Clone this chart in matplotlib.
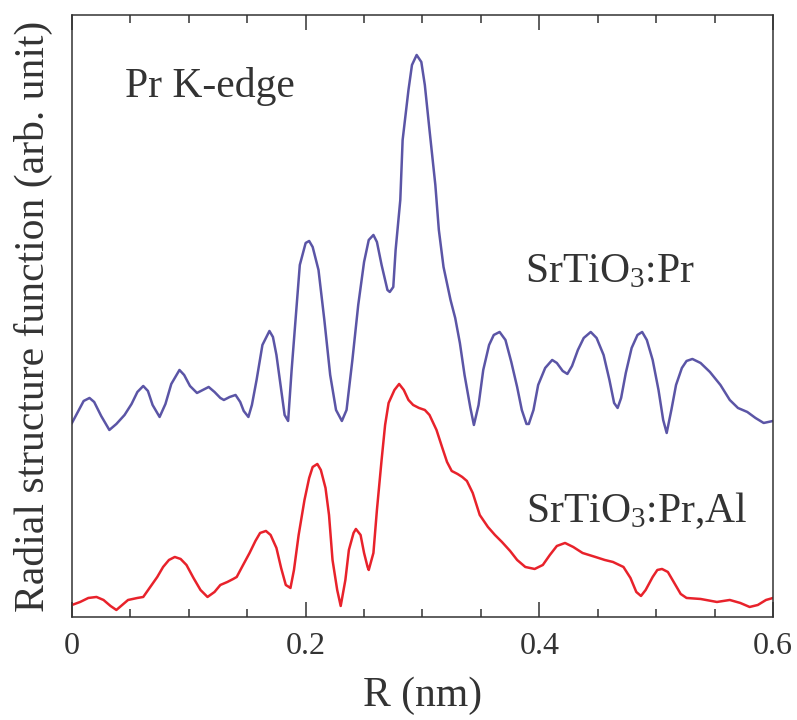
import matplotlib
matplotlib.use('Agg')
import matplotlib.pyplot as plt
from matplotlib.ticker import MultipleLocator

plt.rcParams['font.family'] = ['Liberation Serif', 'DejaVu Serif']
plt.rcParams['mathtext.fontset'] = 'custom'
plt.rcParams['mathtext.rm'] = 'Liberation Serif'
plt.rcParams['mathtext.default'] = 'rm'

TEXT = '#333333'

# SrTiO3:Pr  (R in nm, arbitrary units)
r_pr = [0.000, 0.005, 0.010, 0.015, 0.019, 0.025, 0.032, 0.038, 0.045, 0.051,
        0.056, 0.061, 0.065, 0.069, 0.075, 0.080, 0.085, 0.092, 0.096, 0.101,
        0.107, 0.112, 0.117, 0.122, 0.127, 0.130, 0.135, 0.140, 0.144, 0.147,
        0.151, 0.154, 0.158, 0.163, 0.169, 0.172, 0.175, 0.180, 0.182, 0.185,
        0.188, 0.192, 0.195, 0.200, 0.203, 0.206, 0.211, 0.216, 0.221, 0.226,
        0.231, 0.235, 0.240, 0.245, 0.250, 0.254, 0.258, 0.261, 0.265, 0.270,
        0.272, 0.275, 0.277, 0.281, 0.283, 0.288, 0.291, 0.295, 0.299, 0.302,
        0.306, 0.311, 0.314, 0.318, 0.324, 0.328, 0.332, 0.336, 0.341, 0.344,
        0.348, 0.352, 0.357, 0.361, 0.366, 0.371, 0.376, 0.381, 0.385, 0.389,
        0.391, 0.395, 0.399, 0.405, 0.411, 0.415, 0.420, 0.424, 0.428, 0.433,
        0.438, 0.444, 0.449, 0.455, 0.460, 0.464, 0.467, 0.470, 0.474, 0.479,
        0.484, 0.488, 0.492, 0.497, 0.502, 0.506, 0.509, 0.513, 0.517, 0.522,
        0.526, 0.531, 0.538, 0.546, 0.555, 0.563, 0.570, 0.578, 0.585, 0.592,
        0.600]
f_pr = [194, 205, 216, 219, 215, 201, 187, 193, 202, 213,
        225, 231, 226, 212, 200, 213, 233, 247, 242, 231,
        224, 227, 230, 225, 219, 217, 220, 222, 215, 206,
        200, 212, 237, 272, 286, 280, 262, 219, 202, 196,
        247, 307, 352, 374, 376, 370, 347, 297, 242, 207,
        196, 207, 257, 312, 355, 377, 382, 375, 352, 327,
        325, 330, 367, 417, 477, 527, 552, 562, 555, 532,
        487, 432, 387, 350, 317, 299, 274, 242, 209, 192,
        212, 247, 272, 282, 285, 277, 255, 230, 207, 193,
        193, 207, 232, 249, 257, 254, 246, 243, 251, 267,
        279, 285, 279, 262, 237, 214, 209, 219, 244, 269,
        282, 285, 277, 257, 227, 197, 184, 207, 232, 249,
        256, 258, 254, 245, 232, 217, 209, 205, 199, 194,
        196]

# SrTiO3:Pr,Al
r_pral = [0.000, 0.007, 0.014, 0.021, 0.027, 0.033, 0.038, 0.043, 0.048, 0.052,
          0.056, 0.061, 0.067, 0.073, 0.078, 0.083, 0.088, 0.093, 0.098, 0.104,
          0.110, 0.116, 0.122, 0.127, 0.133, 0.138, 0.141, 0.146, 0.152, 0.157,
          0.161, 0.166, 0.170, 0.175, 0.179, 0.183, 0.187, 0.190, 0.194, 0.199,
          0.203, 0.206, 0.210, 0.213, 0.217, 0.220, 0.223, 0.227, 0.230, 0.234,
          0.237, 0.241, 0.243, 0.247, 0.250, 0.253, 0.254, 0.258, 0.261, 0.265,
          0.268, 0.271, 0.276, 0.280, 0.284, 0.288, 0.292, 0.297, 0.302, 0.306,
          0.312, 0.317, 0.321, 0.325, 0.330, 0.334, 0.338, 0.343, 0.349, 0.356,
          0.362, 0.368, 0.375, 0.381, 0.388, 0.396, 0.403, 0.409, 0.415, 0.422,
          0.429, 0.437, 0.448, 0.456, 0.463, 0.472, 0.478, 0.483, 0.487, 0.491,
          0.497, 0.501, 0.505, 0.510, 0.515, 0.521, 0.526, 0.538, 0.552, 0.563,
          0.572, 0.580, 0.587, 0.594, 0.600]
f_pral = [12, 15, 19, 20, 17, 11, 7, 12, 17, 18,
          19, 20, 30, 40, 50, 57, 60, 58, 52, 39,
          27, 20, 25, 32, 35, 38, 40, 51, 64, 76,
          84, 86, 82, 69, 49, 32, 29, 47, 82, 117,
          139, 150, 153, 147, 129, 102, 57, 27, 11, 37,
          67, 84, 88, 82, 64, 50, 47, 64, 107, 157,
          192, 214, 227, 233, 227, 217, 212, 209, 207, 202,
          187, 169, 155, 146, 143, 140, 136, 124, 102, 90,
          82, 75, 66, 57, 50, 48, 52, 62, 71, 74,
          70, 64, 60, 57, 55, 50, 39, 25, 21, 27,
          40, 47, 48, 45, 35, 23, 19, 18, 15, 17,
          14, 10, 12, 17, 19]

fig = plt.figure(figsize=(7.97, 7.2), dpi=100)
ax = fig.add_axes([0.0903, 0.1431, 0.8796, 0.8361])

ax.plot(r_pr, f_pr, color='#5b55a6', lw=1.8, solid_joinstyle='round')
ax.plot(r_pral, f_pral, color='#e8222b', lw=1.8, solid_joinstyle='round')

ax.set_xlim(0, 0.6)
ax.set_ylim(0, 602)
ax.xaxis.set_minor_locator(MultipleLocator(0.05))
ax.set_xticks([0, 0.2, 0.4, 0.6])
ax.set_xticklabels(['0', '0.2', '0.4', '0.6'])
ax.set_yticks([])
ax.tick_params(axis='x', which='both', direction='in', top=True,
               colors=TEXT, labelsize=23, pad=11)
ax.tick_params(axis='x', which='major', length=11, width=1.1)
ax.tick_params(axis='x', which='minor', length=5.5, width=1.1)
for s in ax.spines.values():
    s.set_color(TEXT)
    s.set_linewidth(1.1)

ax.set_xlabel('R (nm)', fontsize=30, color=TEXT, labelpad=11)
ax.set_ylabel('Radial structure function (arb. unit)', fontsize=30,
              color=TEXT, labelpad=14)

ax.text(0.045, 520, 'Pr K-edge', fontsize=30, color=TEXT)
ax.text(0.388, 335, r'SrTiO$_3$:Pr', fontsize=30, color=TEXT)
ax.text(0.389, 95, r'SrTiO$_3$:Pr,Al', fontsize=30, color=TEXT)

fig.savefig('out.png', dpi=100)
